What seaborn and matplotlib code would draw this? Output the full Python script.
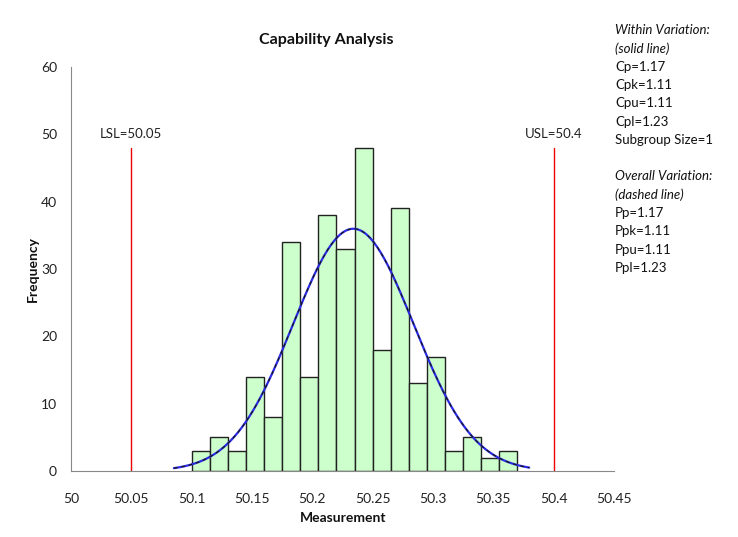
import numpy as np
import pandas as pd
import matplotlib
matplotlib.use("Agg")
import matplotlib.pyplot as plt
import seaborn as sns

# ---- data ----
bin_start = 50.10
bin_width = 0.015
counts = [3, 5, 3, 14, 8, 34, 14, 38, 33, 48, 18, 39, 13, 17, 3, 5, 2, 3]
lsl = 50.05
usl = 50.40
mu_within, sigma_within = 50.234, 0.0499
mu_overall, sigma_overall = 50.234, 0.0499
x_ticks = [50, 50.05, 50.1, 50.15, 50.2, 50.25, 50.3, 50.35, 50.4, 50.45]
x_tick_labels = ["50", "50.05", "50.1", "50.15", "50.2", "50.25", "50.3", "50.35", "50.4", "50.45"]
y_ticks = [0, 10, 20, 30, 40, 50, 60]
stats_lines = [
    ("Within Variation:", True), ("(solid line)", True),
    ("Cp=1.17", False), ("Cpk=1.11", False), ("Cpu=1.11", False), ("Cpl=1.23", False),
    ("Subgroup Size=1", False), ("", False),
    ("Overall Variation:", True), ("(dashed line)", True),
    ("Pp=1.17", False), ("Ppk=1.11", False), ("Ppu=1.11", False), ("Ppl=1.23", False),
]

sns.set_style("white")
plt.rcParams['font.family'] = ['Lato', 'DejaVu Sans']

n_bins = len(counts)
edges = bin_start + bin_width * np.arange(n_bins + 1)
centers = (edges[:-1] + edges[1:]) / 2
df = pd.DataFrame({"Measurement": centers, "count": counts})
N = sum(counts)

fig = plt.figure(figsize=(7.38, 5.37), dpi=100)
ax = fig.add_axes([71/738, 1-471/537, (614-71)/738, (471-67)/537])

sns.histplot(data=df, x="Measurement", weights="count",
             binwidth=bin_width, binrange=(float(edges[0]), float(edges[-1])),
             color="#CCFFCC", edgecolor="#222222", linewidth=1.0, alpha=1.0, ax=ax)

def curve(mu, sigma):
    xs = np.linspace(mu - 2.98*sigma, mu + 2.92*sigma, 200)
    ys = N * bin_width / (sigma*np.sqrt(2*np.pi)) * np.exp(-0.5*((xs-mu)/sigma)**2)
    return pd.DataFrame({"x": xs, "y": ys})

cw = curve(mu_within, sigma_within)
co = curve(mu_overall, sigma_overall)
sns.lineplot(data=cw, x="x", y="y", color="#2B2BE8", linewidth=1.6, ax=ax)
sns.lineplot(data=co, x="x", y="y", color="#1a1a1a", linewidth=0.9, linestyle=(0, (3, 3)), ax=ax)

top = max(counts)
for v, lab in [(lsl, f"LSL={lsl:g}"), (usl, f"USL={usl:g}")]:
    ax.plot([v, v], [0, top], color="#EE0000", linewidth=1.0)
    ax.text(v, 50, lab, ha="center", va="center", fontsize=9.5, color="#222222")

ax.set_xlim(50, 50.45)
ax.set_ylim(0, 60)
ax.set_xticks(x_ticks)
ax.set_xticklabels(x_tick_labels)
ax.set_yticks(y_ticks)
ax.tick_params(axis="both", direction="out", length=4, width=0.8, color="#888888",
               labelsize=10, labelcolor="#222222", pad=6)
ax.tick_params(axis="x", pad=12)
for s in ["top", "right"]:
    ax.spines[s].set_visible(False)
for s in ["left", "bottom"]:
    ax.spines[s].set_color("#888888")
    ax.spines[s].set_linewidth(0.8)
ax.set_xlabel("")
ax.set_ylabel("")

fig.text(326/738, 1-40/537, "Capability Analysis", ha="center", va="center",
         fontsize=11.5, fontweight="bold", color="#111111")
fig.text(343/738, 1-518/537, "Measurement", ha="center", va="center",
         fontsize=10, fontweight="bold", color="#111111")
fig.text(33/738, 1-269/537, "Frequency", ha="center", va="center", rotation=90,
         fontsize=10, fontweight="bold", color="#111111")

y0 = 30
dy = 18.3
for i, (t, it) in enumerate(stats_lines):
    if t:
        fig.text(615/738, 1-(y0 + i*dy)/537, t, ha="left", va="center", fontsize=9.5,
                 style="italic" if it else "normal", color="#111111")

fig.savefig("out.png", dpi=100, facecolor="white")
